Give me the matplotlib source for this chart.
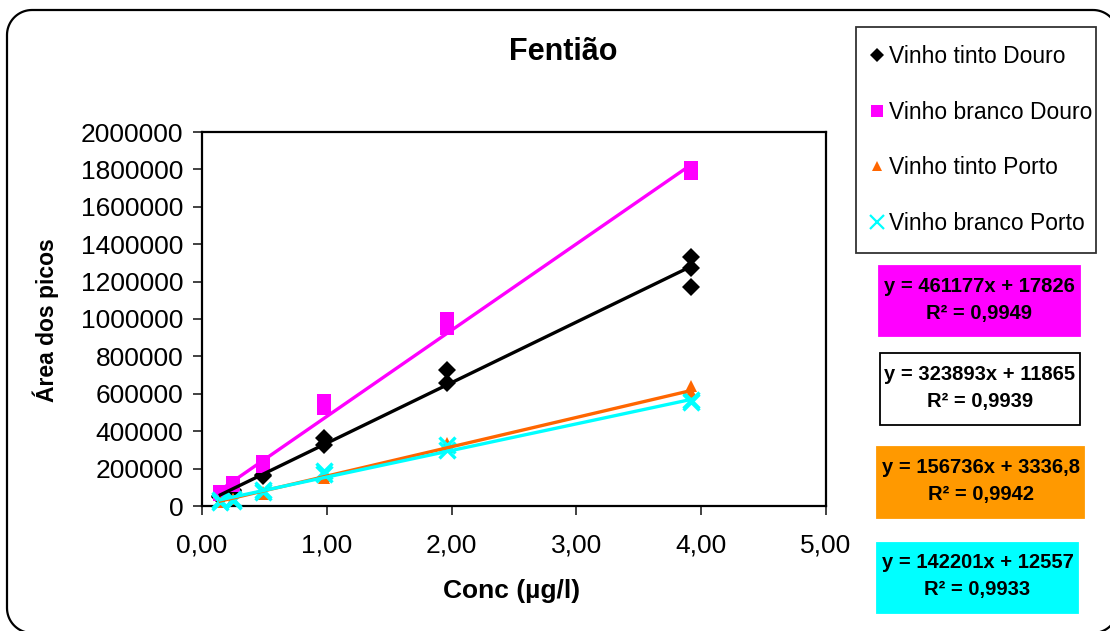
import matplotlib
matplotlib.use("Agg")
import numpy as np
import matplotlib.pyplot as plt
from matplotlib.patches import Rectangle, PathPatch
from matplotlib.path import Path
from matplotlib.lines import Line2D

plt.rcParams['font.family'] = ['Liberation Sans', 'DejaVu Sans']

# ---------------- data ----------------
title = "Fentião"
x_label = "Conc (µg/l)"
y_label = "Área dos picos"
series_names = ["Vinho tinto Douro", "Vinho branco Douro", "Vinho tinto Porto", "Vinho branco Porto"]

x_tinto_douro = [0.147, 0.147, 0.245, 0.245, 0.49, 0.49, 0.98, 0.98, 1.96, 1.96, 3.92, 3.92, 3.92]
y_tinto_douro = [55000, 48000, 85000, 80000, 166000, 160000, 362000, 326000, 727000, 656000, 1333000, 1274000, 1173000]

x_branco_douro = [0.147, 0.147, 0.245, 0.245, 0.49, 0.49, 0.98, 0.98, 1.96, 1.96, 3.92, 3.92]
y_branco_douro = [75000, 65000, 125000, 110000, 235000, 215000, 560000, 525000, 1000000, 950000, 1810000, 1780000]

x_tinto_porto = [0.147, 0.147, 0.245, 0.245, 0.49, 0.49, 0.98, 0.98, 1.96, 1.96, 3.92, 3.92]
y_tinto_porto = [25000, 20000, 40000, 35000, 75000, 65000, 160000, 150000, 335000, 315000, 640000, 610000]

x_branco_porto = [0.147, 0.147, 0.245, 0.245, 0.49, 0.49, 0.98, 0.98, 1.96, 1.96, 3.92, 3.92]
y_branco_porto = [30000, 20000, 35000, 28000, 85000, 75000, 185000, 170000, 325000, 300000, 567000, 555000]

slopes = [323893, 461177, 156736, 142201]
intercepts = [11865, 17826, 3336.8, 12557]
r2_values = [0.9939, 0.9949, 0.9942, 0.9933]
eq_texts = ["y = 323893x + 11865", "y = 461177x + 17826", "y = 156736x + 3336,8", "y = 142201x + 12557"]

x_ticks = [0, 1, 2, 3, 4, 5]
y_ticks = [0, 200000, 400000, 600000, 800000, 1000000, 1200000, 1400000, 1600000, 1800000, 2000000]

# ---------------- styles ----------------
marker_colors = ["#000000", "#FF00FF", "#FF6600", "#00FFFF"]
line_colors = ["#000000", "#FF00FF", "#FF6600", "#00FFFF"]
box_colors = ["#FFFFFF", "#FF00FF", "#FF9900", "#00FFFF"]
markers = ["D", "s", "^", "x"]
msizes = [9, 10, 9, 11]

W, H = 1110, 631
fig = plt.figure(figsize=(W / 100, H / 100), dpi=100)
fig.patch.set_facecolor("white")

def fx(px):
    return px / W

def fy(py):
    return 1 - py / H

# outer rounded frame, built in pixel space and mapped to figure fraction
def rounded_frame(l, t, r, b, rad, n=20):
    pts = []
    corners = [((r - rad, t + rad), -90, 0), ((r - rad, b - rad), 0, 90),
               ((l + rad, b - rad), 90, 180), ((l + rad, t + rad), 180, 270)]
    for (cx, cy), a0, a1 in corners:
        for a in np.linspace(np.radians(a0), np.radians(a1), n):
            pts.append((cx + rad * np.cos(a), cy + rad * np.sin(a)))
    pts.append(pts[0])
    return [(fx(px), fy(py)) for px, py in pts]

frame_pts = rounded_frame(7, 10, 1118, 633, 25)
frame = PathPatch(Path(frame_pts), transform=fig.transFigure, fill=False,
                  edgecolor="black", linewidth=1.6)
fig.add_artist(frame)

ax = fig.add_axes([fx(202), fy(506), fx(826) - fx(202), fy(132) - fy(506)])
ax.set_xlim(0, 5)
ax.set_ylim(0, 2000000)

xs = [x_tinto_douro, x_branco_douro, x_tinto_porto, x_branco_porto]
ys = [y_tinto_douro, y_branco_douro, y_tinto_porto, y_branco_porto]

handles = []
for i in range(4):
    if markers[i] == "x":
        ax.plot(xs[i], ys[i], linestyle="none", marker="x", color=marker_colors[i],
                markersize=msizes[i], markeredgewidth=2.4, zorder=3, clip_on=False)
    else:
        ax.plot(xs[i], ys[i], linestyle="none", marker=markers[i], color=marker_colors[i],
                markersize=msizes[i], markeredgewidth=0, zorder=3, clip_on=False)
    x0, x1 = min(xs[i]), max(xs[i])
    ax.plot([x0, x1], [slopes[i] * x0 + intercepts[i], slopes[i] * x1 + intercepts[i]],
            color=line_colors[i], linewidth=2.4, zorder=4)
    if markers[i] == "x":
        h = Line2D([], [], linestyle="none", marker="x", color=marker_colors[i],
                   markersize=10, markeredgewidth=1.6)
    else:
        h = Line2D([], [], linestyle="none", marker=markers[i], color=marker_colors[i],
                   markersize=[7.5, 8, 7][i], markeredgewidth=0)
    handles.append(h)

ax.set_xticks(x_ticks)
ax.set_xticklabels([f"{v:.2f}".replace(".", ",") for v in x_ticks])
ax.set_yticks(y_ticks)
ax.set_yticklabels([str(v) for v in y_ticks])
ax.tick_params(axis="both", direction="out", length=6.5, width=1.3, labelsize=19, color="#333333")
ax.tick_params(axis="x", pad=13)
ax.tick_params(axis="y", pad=7)
for s in ax.spines.values():
    s.set_linewidth(1.6)
    s.set_color("black")

fig.text(fx(563), fy(52), title, ha="center", va="center", fontsize=22, fontweight="bold")
fig.text(fx(512), fy(591), x_label, ha="center", va="center", fontsize=19, fontweight="bold")
fig.text(fx(46), fy(320), y_label, ha="center", va="center", fontsize=16.5, fontweight="bold", rotation=90)

leg = fig.legend(handles, series_names, loc="upper left",
                 bbox_to_anchor=(fx(856), fy(253), fx(1096) - fx(856), fy(27) - fy(253)),
                 bbox_transform=fig.transFigure, mode="expand",
                 fontsize=16.5, frameon=True, fancybox=False, edgecolor="black",
                 labelspacing=1.42, handlelength=0.2, handletextpad=0.42,
                 borderpad=0.8, borderaxespad=0)
leg.get_frame().set_linewidth(1.3)

# equation boxes: order in figure: branco douro, tinto douro, tinto porto, branco porto
box_order = [1, 0, 2, 3]
box_px = [(879, 266, 1080, 336), (880, 353, 1080, 425), (877, 447, 1084, 518), (877, 543, 1078, 613)]
for idx, (l, t, r, b) in zip(box_order, box_px):
    ec = "black" if box_colors[idx] == "#FFFFFF" else box_colors[idx]
    rect = Rectangle((fx(l), fy(b)), fx(r) - fx(l), fy(t) - fy(b), transform=fig.transFigure,
                     facecolor=box_colors[idx], edgecolor=ec, linewidth=1.3)
    fig.add_artist(rect)
    cx = (l + r) / 2
    cy = (t + b) / 2
    r2s = f"R² = {r2_values[idx]:.4f}".replace(".", ",")
    fig.text(fx(cx), fy(cy - 15), eq_texts[idx], ha="center", va="center", fontsize=14.5, fontweight="bold")
    fig.text(fx(cx), fy(cy + 12), r2s, ha="center", va="center", fontsize=14.5, fontweight="bold")

fig.savefig("out.png", dpi=100)
